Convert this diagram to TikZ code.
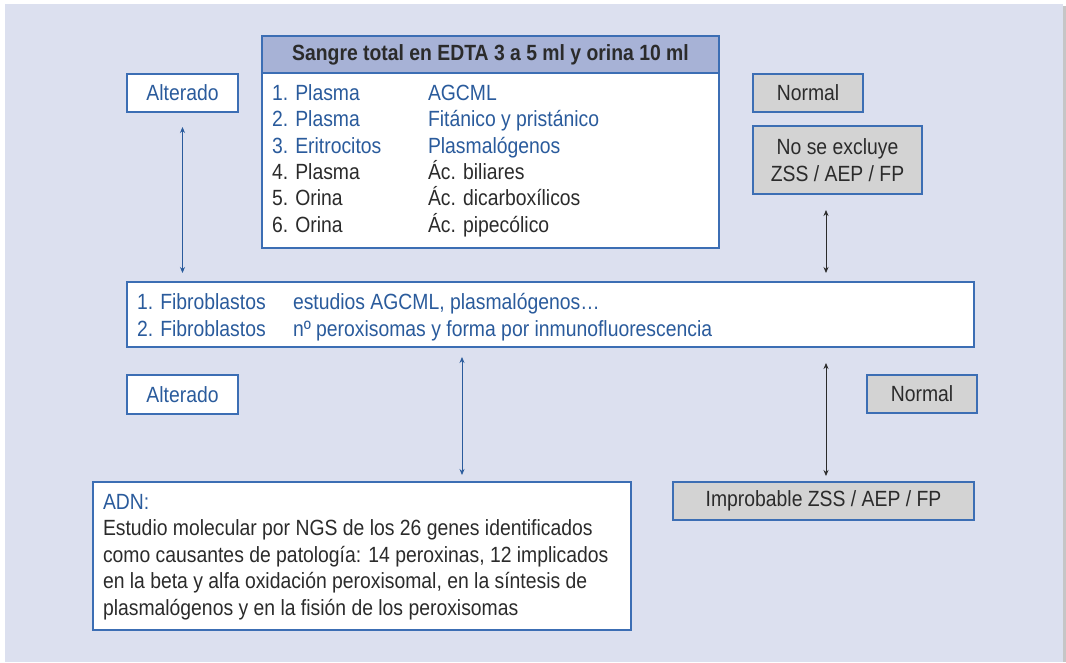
\documentclass[tikz,border=0pt]{standalone}
\usepackage{fontspec}
\setmainfont{Liberation Sans}[FakeStretch=0.88]
\usetikzlibrary{arrows.meta}
\definecolor{panel}{HTML}{DCE0EF}
\definecolor{hdrfill}{HTML}{A7B2D6}
\definecolor{bord}{HTML}{3C6EB4}
\definecolor{txtblue}{HTML}{2A5B9C}
\definecolor{txtdark}{HTML}{2B2B2B}
\definecolor{grayfill}{HTML}{D3D3D3}
\newcommand\bt[1]{\textcolor{txtblue}{#1}}
\newcommand\dt[1]{\textcolor{txtdark}{#1}}
\newcommand\colA[1]{\makebox[156pt][l]{#1}}
\begin{document}
\begin{tikzpicture}[x=1pt,y=1pt,
  every node/.style={font=\fontsize{22}{26.5}\selectfont, inner sep=0pt, outer sep=0pt},
  box/.style={draw=bord, line width=1.1pt, rectangle},
  wbox/.style={box, fill=white},
  gbox/.style={box, fill=grayfill, text=txtdark},
  hbox/.style={box, fill=hdrfill, text=txtdark, font=\fontsize{22}{26.5}\selectfont\bfseries},
  txt/.style={align=left, anchor=base west},
  arrB/.style={draw=txtblue, line width=0.8pt, {Stealth[length=6pt,width=5pt]}-{Stealth[length=6pt,width=5pt]}},
  arrK/.style={draw=txtdark, line width=0.8pt, {Stealth[length=6pt,width=5pt]}-{Stealth[length=6pt,width=5pt]}}
]
\useasboundingbox (0,0) rectangle (1066,-662);
\fill[white] (0,0) rectangle (1066,-662);
\fill[gray!45] (1063,-6) rectangle (1065.5,-662);
\fill[panel] (5,-4) rectangle (1063,-662);

% top box
\node[hbox, minimum width=457pt, minimum height=37pt] (hdr) at (490.5,-54.5) {Sangre total en EDTA 3 a 5 ml y orina 10 ml};
\node[wbox, minimum width=457pt, minimum height=175pt, anchor=north] (sangre) at (hdr.south) {};
\node[txt, font=\fontsize{22}{26.3}\selectfont] (sangretxt) at (272,-232) {%
\colA{\bt{1. Plasma}}\bt{AGCML}\\
\colA{\bt{2. Plasma}}\bt{Fitánico y pristánico}\\
\colA{\bt{3. Eritrocitos}}\bt{Plasmalógenos}\\
\colA{\dt{4. Plasma}}\dt{Ác. biliares}\\
\colA{\dt{5. Orina}}\dt{Ác. dicarboxílicos}\\
\colA{\dt{6. Orina}}\dt{Ác. pipecólico}};

% side boxes
\node[wbox, text=txtblue, minimum width=111pt, minimum height=38pt] (alt1) at (182.5,-93) {Alterado};
\node[gbox, minimum width=110pt, minimum height=38pt] (norm1) at (808,-93) {Normal};
\node[gbox, minimum width=169pt, minimum height=68pt, align=center] (nose) at (837.5,-160) {No se excluye\\ZSS / AEP / FP};

% fibroblast box
\node[wbox, minimum width=847pt, minimum height=65pt] (fibro) at (550.5,-314.5) {};
\node[txt, font=\fontsize{22}{27}\selectfont] (fibrotxt) at (137,-336) {%
\colA{\bt{1. Fibroblastos}}\bt{estudios AGCML, plasmalógenos…}\\
\colA{\bt{2. Fibroblastos}}\bt{nº peroxisomas y forma por inmunofluorescencia}};

\node[wbox, text=txtblue, minimum width=111pt, minimum height=39pt] (alt2) at (182.5,-394.5) {Alterado};
\node[gbox, minimum width=110pt, minimum height=38pt] (norm2) at (922,-394) {Normal};
\node[gbox, minimum width=301pt, minimum height=38pt] (improb) at (823.5,-501) {Improbable ZSS / AEP / FP};

% ADN box
\node[wbox, minimum width=538pt, minimum height=148pt] (adn) at (362,-556) {};
\node[txt] (adntxt) at (103,-615) {%
\bt{ADN:}\\
\dt{Estudio molecular por NGS de los 26 genes identificados}\\
\dt{como causantes de patología: 14 peroxinas, 12 implicados}\\
\dt{en la beta y alfa oxidación peroxisomal, en la síntesis de}\\
\dt{plasmalógenos y en la fisión de los peroxisomas}};

% connectors
\draw[arrB, shorten <=15pt, shorten >=9pt] (alt1.south) -- (alt1.south |- fibro.north);
\draw[arrK, shorten <=16pt, shorten >=9pt] ([xshift=-11.5pt]nose.south) -- ([xshift=-11.5pt]nose.south |- fibro.north);
\draw[arrB, shorten <=10pt, shorten >=7pt] ([xshift=100pt]adn.north |- fibro.south) -- ([xshift=100pt]adn.north);
\draw[arrK, shorten <=16pt, shorten >=6pt] ([xshift=2.5pt]improb.north |- fibro.south) -- ([xshift=2.5pt]improb.north);
\end{tikzpicture}
\end{document}
